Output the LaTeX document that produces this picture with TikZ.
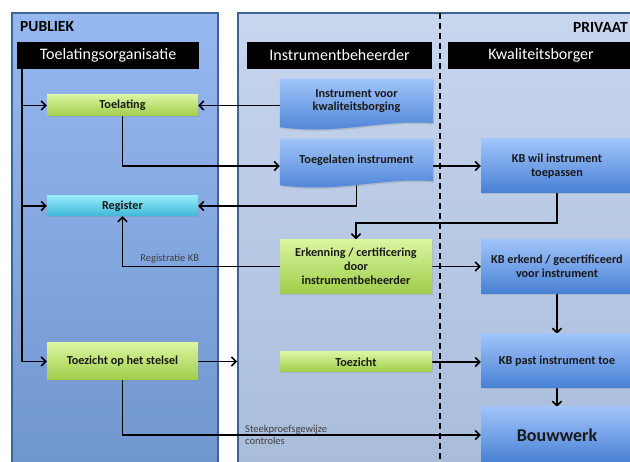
\documentclass[tikz,border=0pt]{standalone}
\usepackage{fontspec}
\setmainfont{Carlito}
\usetikzlibrary{arrows.meta,calc,shadows}
\pgfdeclarelayer{panel}
\pgfdeclarelayer{lines}
\pgfdeclarelayer{shapes}
\pgfsetlayers{panel,lines,shapes,main}
\definecolor{pubTop}{RGB}{150,184,240}
\definecolor{pubBot}{RGB}{112,150,206}
\definecolor{priTop}{RGB}{200,214,238}
\definecolor{priBot}{RGB}{168,188,218}
\definecolor{panelBorder}{RGB}{62,100,150}
\definecolor{gTop}{RGB}{218,245,160}
\definecolor{gBot}{RGB}{160,205,75}
\definecolor{bTop}{RGB}{160,196,250}
\definecolor{bBot}{RGB}{72,128,212}
\definecolor{cTop}{RGB}{150,234,250}
\definecolor{cBot}{RGB}{62,184,214}
\definecolor{lblc}{RGB}{64,64,64}
\begin{document}
\begin{tikzpicture}[x=1pt,y=-1pt,
  hdr/.style={fill=black,text=white,font=\fontsize{16}{18}\selectfont,inner sep=0pt,minimum height=27pt},
  bx/.style={inner sep=0pt,align=center,font=\bfseries\fontsize{12.2}{13.5}\selectfont,text=black!90,
     drop shadow={opacity=0.25,shadow xshift=1pt,shadow yshift=-1.5pt}},
  greenbx/.style={bx,top color=gTop,bottom color=gBot},
  bluebx/.style={bx,top color=bTop,bottom color=bBot},
  cyanbx/.style={bx,top color=cTop,bottom color=cBot},
  docbx/.style={inner sep=0pt,align=center,font=\bfseries\fontsize{12.2}{13.5}\selectfont,text=black!90},
  docfill/.style={top color=bTop,bottom color=bBot,drop shadow={opacity=0.25,shadow xshift=1pt,shadow yshift=-1.5pt}},
  ln/.style={line width=1.5pt},
  conn/.style={line width=1.5pt,-{Straight Barb[length=4.5pt,width=9pt]}},
  lbl/.style={font=\fontsize{10.5}{12}\selectfont,text=lblc},
  ttl/.style={font=\bfseries\fontsize{15.5}{17}\selectfont,inner sep=0pt}
]
\useasboundingbox (0,0) rectangle (630,462);

\begin{pgfonlayer}{panel}
\path[top color=pubTop,bottom color=pubBot,draw=panelBorder,line width=2pt] (12,13) rectangle (218,475);
\path[top color=priTop,bottom color=priBot,draw=panelBorder,line width=2pt] (238,13) rectangle (660,475);
\draw[line width=1.5pt,dash pattern=on 6pt off 4pt] (440,13) -- (440,462);
\node[ttl,anchor=west] (pub) at (20,27) {PUBLIEK};
\node[ttl,anchor=east] (pri) at (628,27) {PRIVAAT};
\end{pgfonlayer}

% headers
\node[hdr,minimum width=182pt] (ht) at (108,55.5) {Toelatingsorganisatie};
\node[hdr,minimum width=185pt] (hi) at (339.5,55.5) {Instrumentbeheerder};
\node[hdr,minimum width=186pt] (hk) at (541,55.5) {Kwaliteitsborger};

% left column
\node[greenbx,minimum width=151pt,minimum height=21pt] (toel) at (122.5,105.5) {Toelating};
\node[cyanbx,minimum width=151pt,minimum height=20pt] (reg) at (122.5,206) {Register};
\node[greenbx,minimum width=151pt,minimum height=37pt] (tzs) at (122.5,361.5) {Toezicht op het stelsel};

% middle column
\node[docbx,minimum width=153pt,minimum height=44pt] (ivk) at (356.5,101) {Instrument voor\\kwaliteitsborging};
\node[docbx,minimum width=153pt,minimum height=42pt] (tgi) at (356.5,160) {Toegelaten instrument};
\node[greenbx,minimum width=152pt,minimum height=54pt,font=\bfseries\fontsize{12.2}{14}\selectfont] (erk) at (356,266.5) {Erkenning / certificering\\door\\instrumentbeheerder};
\node[greenbx,minimum width=152pt,minimum height=20pt] (tz) at (356,362) {Toezicht};

% right column
\node[bluebx,minimum width=152pt,minimum height=54pt] (kbw) at (557,166) {KB wil instrument\\toepassen};
\node[bluebx,minimum width=152pt,minimum height=54pt] (kbe) at (557,266.5) {KB erkend / gecertificeerd\\voor instrument};
\node[bluebx,minimum width=152pt,minimum height=54pt] (kbp) at (557,361) {KB past instrument toe};
\node[bluebx,minimum width=152pt,minimum height=56pt,font=\bfseries\fontsize{18}{20}\selectfont] (bw) at (557,435) {Bouwwerk};

\begin{pgfonlayer}{shapes}
\foreach \n in {ivk,tgi}
  \path[docfill] (\n.north west) -- (\n.north east) -- (\n.south east)
    .. controls ($(\n.south east)+(-53,-4)$) and ($(\n.south west)+(61,12)$) .. ($(\n.south west)+(0,4)$) -- cycle;
\end{pgfonlayer}

\coordinate (trunk) at ([xshift=5pt]ht.south west);
\coordinate (rpl) at (237,0);
\begin{pgfonlayer}{lines}
\draw[conn] (trunk) |- (toel.west);
\draw[conn] (trunk) |- (reg.west);
\draw[conn] (trunk) |- (tzs.west);
\draw[conn] (toel.east -| ivk.west) -- (toel.east);
\draw[conn] (toel.south) |- ([yshift=-6pt]tgi.west);
\draw[conn] (kbw.west -| tgi.east) -- (kbw.west);
\draw[conn] (tgi.south) |- (reg.east);
\draw[conn] (kbw.south) -- ++(0,30) -| (erk.north);
\draw[conn] (erk.east) -- (kbe.west);
\draw[conn] (erk.west) -| node[lbl,pos=0.35,above,inner sep=2pt] (rkb) {Registratie KB} (reg.south);
\draw[conn] (kbe.south) -- (kbp.north);
\draw[conn] (kbp.south) -- (bw.north);
\draw[conn] (tzs.east) -- (tzs.east -| rpl);
\draw[conn] (tz.east) -- (kbp.west |- tz.east);
\draw[conn] (tzs.south) |- (bw.west);
\end{pgfonlayer}
\node[lbl,anchor=west,align=left,inner sep=0pt] (stk) at (245,434.5) {Steekproefsgewijze\\controles};
\end{tikzpicture}
\end{document}
